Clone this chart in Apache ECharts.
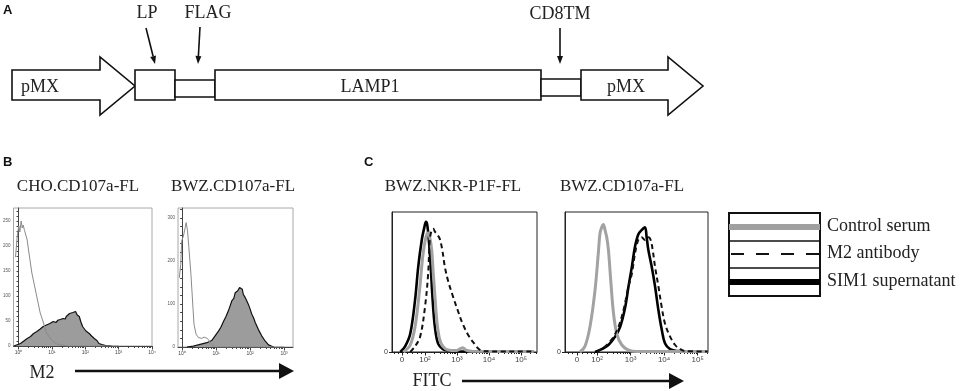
<!DOCTYPE html>
<html>
<head>
<meta charset="utf-8">
<script src="https://cdn.jsdelivr.net/npm/echarts@6/dist/echarts.min.js"></script>
<style>html,body{margin:0;padding:0;background:#fff;}#c{width:972px;height:391px;}</style>
</head>
<body>
<div id="c"></div>
<script>
// ---------- Panel B data: x = log10(M2 intensity), y = cell count ----------
const choCtrlX = [-0.09, -0.03, 0.01, 0.04, 0.08, 0.11, 0.14, 0.18, 0.26, 0.30, 0.40, 0.55, 0.65, 0.74, 0.84, 0.99, 1.14, 1.43, 3.0];
const choCtrlY = [178, 225, 240, 228, 250, 236, 242, 231, 212, 192, 146, 98, 66, 48, 26, 12, 4, 0, 0];
const choM2X = [-0.14, 0.06, 0.16, 0.26, 0.36, 0.45, 0.55, 0.65, 0.74, 0.84, 0.94, 1.04, 1.12, 1.19, 1.26, 1.33, 1.40, 1.43, 1.48, 1.53, 1.58, 1.63, 1.67, 1.71, 1.76, 1.82, 1.87, 1.92, 2.02, 2.12, 2.19, 2.27, 2.35, 2.41, 2.50, 2.61, 2.79];
const choM2Y = [0, 5, 10, 15, 19, 25, 29, 34, 39, 42, 45, 49, 47, 52, 53, 55, 54, 59, 60, 65, 64, 67, 66, 69, 62, 59, 48, 39, 30, 25, 20, 15, 11, 5, 3, 1, 0];
const bwzCtrlX = [-0.08, -0.04, -0.01, 0.04, 0.09, 0.12, 0.16, 0.20, 0.26, 0.32, 0.35, 0.41, 0.48, 0.58, 0.65, 0.70, 0.74, 0.80, 0.87, 0.97, 3.0];
const bwzCtrlY = [161, 192, 247, 258, 277, 289, 270, 231, 169, 91, 53, 30, 22, 20, 23, 26, 20, 14, 6, 0, 0];
const bwzM2X = [0.14, 0.33, 0.53, 0.73, 0.87, 0.97, 1.07, 1.14, 1.22, 1.29, 1.36, 1.41, 1.46, 1.52, 1.56, 1.60, 1.63, 1.66, 1.69, 1.73, 1.77, 1.80, 1.84, 1.88, 1.95, 2.00, 2.05, 2.10, 2.15, 2.24, 2.34, 2.44, 2.54, 2.69];
const bwzM2Y = [0, 2, 6, 10, 15, 26, 37, 46, 60, 71, 84, 95, 107, 113, 126, 124, 130, 134, 138, 142, 134, 122, 117, 111, 99, 88, 76, 68, 57, 41, 26, 14, 5, 0];
const bXTickPos = [0, 1, 2, 3, 4];
const bXTickLabels = ['10⁰', '10¹', '10²', '10³', '10⁴'];
const choYTicks = [0, 50, 100, 150, 200, 250];
const bwzYTicks = [0, 100, 200, 300];

// ---------- Panel C data: x = display channel (10^k at k), y = % of max ----------
const nkrCtrlX = [1.33, 1.54, 1.69, 1.83, 1.93, 2.03, 2.10, 2.15, 2.21, 2.26, 2.32, 2.38, 2.46, 2.56, 2.72, 2.98, 3.08, 3.18, 3.28, 3.48, 5.4];
const nkrCtrlY = [0, 5, 18, 44, 68, 82, 85, 82, 73, 56, 37, 20, 9, 4, 1.4, 1, 2, 3, 1.4, 0.5, 0.3];
const nkrM2X = [1.54, 1.69, 1.85, 2.00, 2.10, 2.15, 2.21, 2.26, 2.31, 2.38, 2.46, 2.54, 2.62, 2.72, 2.87, 3.02, 3.18, 3.38, 3.54, 3.69, 3.85, 5.4];
const nkrM2Y = [0, 4, 11, 32, 56, 80, 87, 88, 86, 84, 81, 73, 61, 51, 40, 30, 20, 11, 6, 2, 0.5, 0.3];
const nkrSimX = [1.23, 1.38, 1.54, 1.69, 1.79, 1.90, 1.98, 2.03, 2.07, 2.12, 2.18, 2.24, 2.31, 2.41, 2.56, 2.72, 3.1, 5.4];
const nkrSimY = [0, 4, 13, 37, 61, 80, 89, 93, 91, 80, 61, 37, 18, 6, 2, 1, 0.5, 0.3];
const cdCtrlX = [1.49, 1.64, 1.79, 1.94, 2.04, 2.09, 2.14, 2.19, 2.24, 2.29, 2.34, 2.41, 2.49, 2.59, 2.74, 2.94, 3.19, 5.3];
const cdCtrlY = [0, 4, 18, 44, 71, 85, 89, 91, 87, 82, 73, 51, 28, 13, 5, 1.4, 0.3, 0.3];
const cdM2X = [1.99, 2.19, 2.44, 2.64, 2.79, 2.94, 3.04, 3.13, 3.23, 3.33, 3.43, 3.53, 3.60, 3.66, 3.73, 3.83, 3.93, 4.03, 4.18, 4.33, 4.48, 4.63, 5.3];
const cdM2Y = [0, 3, 9, 18, 30, 47, 56, 70, 80, 82, 80, 82, 80, 73, 61, 47, 32, 20, 11, 5, 2, 0.7, 0.3];
const cdSimX = [1.94, 2.14, 2.34, 2.54, 2.69, 2.84, 2.94, 3.04, 3.13, 3.23, 3.33, 3.43, 3.48, 3.53, 3.63, 3.73, 3.83, 3.93, 4.03, 4.18, 4.38, 5.3];
const cdSimY = [0, 2, 5, 11, 18, 32, 47, 61, 75, 84, 87, 89, 82, 73, 61, 47, 30, 16, 6, 2, 0.7, 0.3];
const nkrTickPos = [1.28, 2, 3, 4, 5];
const cdTickPos = [1.40, 2, 3, 4, 5];
const cTickLabels = ['0', '10²', '10³', '10⁴', '10⁵'];

// ---------- text ----------
const constructParts = ['pMX', 'LP', 'FLAG', 'LAMP1', 'CD8TM', 'pMX'];
const bTitles = ['CHO.CD107a-FL', 'BWZ.CD107a-FL'];
const cTitles = ['BWZ.NKR-P1F-FL', 'BWZ.CD107a-FL'];
const legendNames = ['Control serum', 'M2 antibody', 'SIM1 supernatant'];

const serif = 'Liberation Serif';
const sans = 'Liberation Sans';
const pairs = (xs, ys) => xs.map((x, i) => [x, ys[i]]);

function logMinor(maxV, startDec) {
  const out = [];
  for (let d = startDec; d < 6; d++) for (let k = 2; k <= 9; k++) { const v = d + Math.log10(k); if (v < maxV) out.push(v); }
  return out;
}
function labelFor(pos, labels) {
  return v => { const i = pos.findIndex(p => Math.abs(p - v) < 1e-6); return i >= 0 ? labels[i] : ''; };
}
function range(a, b, s) { const o = []; for (let v = a; v <= b + 1e-9; v += s) o.push(+v.toFixed(6)); return o; }

const grids = [
  { left: 13, top: 208, width: 139, height: 138, show: true, borderColor: '#a8a8a8', borderWidth: 1 },
  { left: 178, top: 208, width: 115, height: 139, show: true, borderColor: '#a8a8a8', borderWidth: 1 },
  { left: 392, top: 212, width: 145, height: 140, show: true, borderColor: '#222', borderWidth: 1 },
  { left: 565, top: 212, width: 143, height: 140, show: true, borderColor: '#222', borderWidth: 1 }
];

function xPair(gi, min, max, majors, labels, minors, fontSize, lineColor) {
  return [
    { type: 'value', gridIndex: gi, min, max, position: 'bottom',
      axisLine: { show: true, onZero: false, lineStyle: { color: lineColor, width: 1 } },
      axisTick: { show: true, length: 2, customValues: minors, lineStyle: { color: lineColor } },
      axisLabel: { show: false }, splitLine: { show: false } },
    { type: 'value', gridIndex: gi, min, max, position: 'bottom',
      axisLine: { show: false },
      axisTick: { show: true, length: 3.5, customValues: majors, lineStyle: { color: lineColor } },
      axisLabel: { show: true, customValues: majors, formatter: labelFor(majors, labels), fontFamily: sans, fontSize, color: '#444', margin: 4 },
      splitLine: { show: false } }
  ];
}

const xAxes = [].concat(
  xPair(0, -0.15, 4.0, bXTickPos, bXTickLabels, logMinor(4.0, 0), 5, '#444'),
  xPair(1, -0.12, 3.26, bXTickPos, bXTickLabels, logMinor(3.26, 0), 5, '#444'),
  xPair(2, 0.97, 5.5, nkrTickPos, cTickLabels, [1.05, 1.15, 1.45, 1.6, 1.75, 1.88].concat(logMinor(5.5, 2)), 8, '#222'),
  xPair(3, 1.045, 5.31, cdTickPos, cTickLabels, [1.15, 1.25, 1.55, 1.7, 1.82, 1.92].concat(logMinor(5.31, 2)), 8, '#222')
);

const yAxes = [
  { type: 'value', gridIndex: 0, min: 0, max: 276,
    axisLine: { show: true, lineStyle: { color: '#444' } },
    axisTick: { show: true, length: 2, customValues: range(0, 270, 10), lineStyle: { color: '#444' } },
    axisLabel: { customValues: choYTicks, fontFamily: sans, fontSize: 4.5, color: '#555', margin: 3 }, splitLine: { show: false } },
  { type: 'value', gridIndex: 1, min: 0, max: 323,
    axisLine: { show: true, lineStyle: { color: '#444' } },
    axisTick: { show: true, length: 2, customValues: range(0, 320, 20), lineStyle: { color: '#444' } },
    axisLabel: { customValues: bwzYTicks, fontFamily: sans, fontSize: 4.5, color: '#555', margin: 3 }, splitLine: { show: false } },
  { type: 'value', gridIndex: 2, min: 0, max: 100,
    axisLine: { show: true, lineStyle: { color: '#222' } },
    axisTick: { show: true, length: 3, customValues: [0] },
    axisLabel: { customValues: [0], fontFamily: sans, fontSize: 7, color: '#333', margin: 4 }, splitLine: { show: false } },
  { type: 'value', gridIndex: 3, min: 0, max: 100,
    axisLine: { show: true, lineStyle: { color: '#222' } },
    axisTick: { show: true, length: 3, customValues: [0] },
    axisLabel: { customValues: [0], fontFamily: sans, fontSize: 7, color: '#333', margin: 4 }, splitLine: { show: false } }
];

const fillSeries = (xi, yi, data) => ({ type: 'line', xAxisIndex: xi, yAxisIndex: yi, data, symbol: 'none', smooth: false,
  lineStyle: { color: '#111', width: 1.2 }, areaStyle: { color: '#9c9c9c', opacity: 1 }, z: 2 });
const thinGray = (xi, yi, data) => ({ type: 'line', xAxisIndex: xi, yAxisIndex: yi, data, symbol: 'none', smooth: false,
  lineStyle: { color: '#8a8a8a', width: 1 }, z: 3 });
const ctrlLine = (xi, yi, data) => ({ type: 'line', xAxisIndex: xi, yAxisIndex: yi, data, symbol: 'none', smooth: 0.35,
  lineStyle: { color: '#a2a2a2', width: 3 }, z: 3 });
const m2Line = (xi, yi, data) => ({ type: 'line', xAxisIndex: xi, yAxisIndex: yi, data, symbol: 'none', smooth: 0.35,
  lineStyle: { color: '#111', width: 2, type: [5, 3.5] }, z: 4 });
const simLine = (xi, yi, data) => ({ type: 'line', xAxisIndex: xi, yAxisIndex: yi, data, symbol: 'none', smooth: 0.35,
  lineStyle: { color: '#000', width: 2.6 }, z: 2 });

const series = [
  fillSeries(0, 0, pairs(choM2X, choM2Y)),
  thinGray(0, 0, pairs(choCtrlX, choCtrlY)),
  fillSeries(2, 1, pairs(bwzM2X, bwzM2Y)),
  thinGray(2, 1, pairs(bwzCtrlX, bwzCtrlY)),
  simLine(4, 2, pairs(nkrSimX, nkrSimY)),
  ctrlLine(4, 2, pairs(nkrCtrlX, nkrCtrlY)),
  m2Line(4, 2, pairs(nkrM2X, nkrM2Y)),
  ctrlLine(6, 3, pairs(cdCtrlX, cdCtrlY)),
  simLine(6, 3, pairs(cdSimX, cdSimY)),
  m2Line(6, 3, pairs(cdM2X, cdM2Y))
];

// ---------- diagram / annotations ----------
const blk = { stroke: '#111', lineWidth: 1.6, fill: '#fff' };
const txt = (x, y, text, size, opts) => ({ type: 'text', x, y, style: Object.assign({ text, fontFamily: serif, fontSize: size, fill: '#222', align: 'center', verticalAlign: 'middle' }, opts || {}) });
const ln = (x1, y1, x2, y2, w, color, dash) => ({ type: 'line', shape: { x1, y1, x2, y2 }, style: { stroke: color || '#111', lineWidth: w, lineDash: dash || null } });
const poly = (points, style) => ({ type: 'polygon', shape: { points }, style });

const graphic = [
  txt(3, 10, 'A', 13, { fontFamily: sans, fontWeight: 'bold', align: 'left', fill: '#111' }),
  poly([[12, 70], [100, 70], [100, 57], [135, 86], [100, 115], [100, 100], [12, 100]], blk),
  { type: 'rect', shape: { x: 135, y: 70, width: 40, height: 30 }, style: blk },
  { type: 'rect', shape: { x: 175, y: 80, width: 40, height: 17 }, style: blk },
  { type: 'rect', shape: { x: 215, y: 70, width: 326, height: 30 }, style: blk },
  { type: 'rect', shape: { x: 541, y: 79, width: 40, height: 17 }, style: blk },
  poly([[581, 70], [668, 70], [668, 57], [703, 86], [668, 115], [668, 100], [581, 100]], blk),
  txt(40, 87, constructParts[0], 18),
  txt(147, 13, constructParts[1], 18),
  txt(208, 13, constructParts[2], 18),
  txt(370, 87, constructParts[3], 18),
  txt(560, 14, constructParts[4], 18),
  txt(626, 87, constructParts[5], 18),
  ln(146, 28, 153.1, 56.2, 1.6),
  poly([[155, 64], [156.0, 55.5], [150.2, 56.9]], { fill: '#111' }),
  ln(200, 27, 198.4, 56, 1.6),
  poly([[198, 64], [201.4, 56.2], [195.4, 55.8]], { fill: '#111' }),
  ln(560, 28, 560, 56, 1.6),
  poly([[560, 64], [563, 56], [557, 56]], { fill: '#111' }),

  txt(3, 162, 'B', 13, { fontFamily: sans, fontWeight: 'bold', align: 'left', fill: '#111' }),
  txt(78, 187, bTitles[0], 17),
  txt(233, 187, bTitles[1], 17),
  txt(42, 373, 'M2', 18),
  ln(75, 371, 281, 371, 2.4),
  poly([[279, 363], [294, 371], [279, 379]], { fill: '#111' }),

  txt(364, 162, 'C', 13, { fontFamily: sans, fontWeight: 'bold', align: 'left', fill: '#111' }),
  txt(453, 187, cTitles[0], 17),
  txt(622, 187, cTitles[1], 17),
  txt(432, 381, 'FITC', 18),
  ln(462, 381, 671, 381, 2.4),
  poly([[669, 373], [684, 381], [669, 389]], { fill: '#111' }),

  { type: 'rect', shape: { x: 729, y: 213, width: 91, height: 83 }, style: { stroke: '#111', lineWidth: 2, fill: '#fff' } },
  ln(729, 241, 820, 241, 1.6),
  ln(729, 268, 820, 268, 1.6),
  ln(729, 227, 820, 227, 6, '#a0a0a0'),
  ln(731, 254, 820, 254, 2, '#111', [13, 12]),
  ln(729, 282, 820, 282, 6, '#000'),
  txt(827, 226, legendNames[0], 18, { align: 'left' }),
  txt(827, 253, legendNames[1], 18, { align: 'left' }),
  txt(827, 281, legendNames[2], 18, { align: 'left' })
];

const chart = echarts.init(document.getElementById('c'), null, { renderer: 'canvas' });
chart.setOption({
  animation: false,
  backgroundColor: '#fff',
  grid: grids,
  xAxis: xAxes,
  yAxis: yAxes,
  series,
  graphic
});
</script>
</body>
</html>
